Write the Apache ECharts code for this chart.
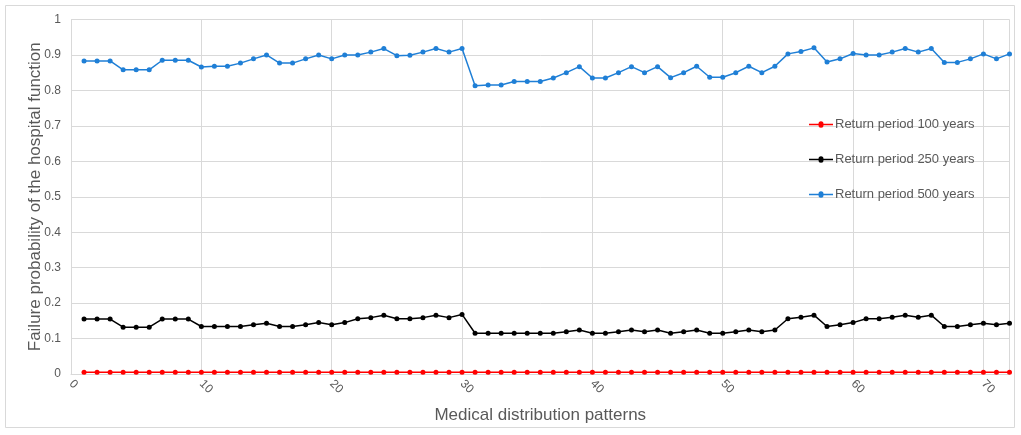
<!DOCTYPE html>
<html>
<head>
<meta charset="utf-8">
<script src="https://cdn.jsdelivr.net/npm/echarts@6/dist/echarts.min.js"></script>
<style>
html,body{margin:0;padding:0;background:#fff;}
#chart{width:1021px;height:435px;}
</style>
</head>
<body>
<div id="chart"></div>
<script>
const patterns = Array.from({length: 72}, (_, i) => i + 1);

const rp100 = [
  0.005,0.005,0.005,0.005,0.005,0.005,0.005,0.005,0.005,0.005,
  0.005,0.005,0.005,0.005,0.005,0.005,0.005,0.005,0.005,0.005,
  0.005,0.005,0.005,0.005,0.005,0.005,0.005,0.005,0.005,0.005,
  0.005,0.005,0.005,0.005,0.005,0.005,0.005,0.005,0.005,0.005,
  0.005,0.005,0.005,0.005,0.005,0.005,0.005,0.005,0.005,0.005,
  0.005,0.005,0.005,0.005,0.005,0.005,0.005,0.005,0.005,0.005,
  0.005,0.005,0.005,0.005,0.005,0.005,0.005,0.005,0.005,0.005,
  0.005,0.005
];

const rp250 = [
  0.155,0.155,0.155,0.132,0.132,0.132,0.155,0.155,0.155,0.134,
  0.134,0.134,0.134,0.139,0.143,0.134,0.134,0.139,0.145,0.139,
  0.145,0.156,0.159,0.166,0.156,0.156,0.159,0.166,0.159,0.168,
  0.115,0.115,0.115,0.115,0.115,0.115,0.115,0.119,0.124,0.115,
  0.115,0.119,0.124,0.119,0.124,0.115,0.119,0.124,0.115,0.115,
  0.119,0.124,0.119,0.124,0.156,0.160,0.166,0.134,0.139,0.145,
  0.156,0.156,0.160,0.166,0.160,0.166,0.134,0.134,0.139,0.143,
  0.139,0.143
];

const rp500 = [
  0.883,0.883,0.883,0.858,0.858,0.858,0.885,0.885,0.885,0.866,
  0.868,0.868,0.877,0.889,0.900,0.877,0.877,0.889,0.900,0.889,
  0.900,0.900,0.908,0.918,0.898,0.899,0.908,0.918,0.908,0.918,
  0.813,0.815,0.815,0.825,0.825,0.825,0.835,0.850,0.867,0.835,
  0.835,0.850,0.867,0.850,0.867,0.836,0.850,0.868,0.837,0.837,
  0.850,0.868,0.850,0.868,0.903,0.910,0.920,0.880,0.889,0.904,
  0.900,0.900,0.908,0.918,0.908,0.918,0.879,0.879,0.889,0.903,
  0.889,0.903
];

const seriesNames = ['Return period 100 years','Return period 250 years','Return period 500 years'];
const seriesColors = ['#ff0000','#000000','#1f7fd6'];
const seriesData = [rp100, rp250, rp500];

const chart = echarts.init(document.getElementById('chart'));
const textColor = '#595959';
const gridColor = '#d9d9d9';

chart.setOption({
  animation: false,
  backgroundColor: '#ffffff',
  textStyle: {fontFamily: 'Liberation Sans, Arial, sans-serif'},
  graphic: [{
    type: 'rect',
    shape: {x: 5.5, y: 5.5, width: 1009, height: 422},
    style: {fill: 'none', stroke: '#d9d9d9', lineWidth: 1},
    silent: true,
    z: -1
  }],
  grid: {left: 71, right: 11.5, top: 19.5, bottom: 61, containLabel: false},
  legend: {
    orient: 'vertical',
    left: 804,
    top: 113,
    itemGap: 22,
    itemWidth: 24,
    itemHeight: 14,
    textStyle: {color: textColor, fontSize: 13, padding: [0,0,0,-3]},
    data: seriesNames.map((n, i) => ({name: n, icon: 'path://M0,6.3 L9.5,6.3 A2.5,2.5 0 1 1 14.5,6.3 L24,6.3 L24,7.7 L14.5,7.7 A2.5,2.5 0 1 1 9.5,7.7 L0,7.7 Z', itemStyle: {color: seriesColors[i]}}))
  },
  xAxis: {
    type: 'value',
    min: 0,
    max: 72,
    interval: 10,
    name: 'Medical distribution patterns',
    nameLocation: 'middle',
    nameGap: 33,
    nameMoveOverlap: false,
    nameTextStyle: {color: textColor, fontSize: 17},
    axisLine: {show: true, lineStyle: {color: gridColor}},
    axisTick: {show: false},
    axisLabel: {color: textColor, fontSize: 12, rotate: -45, margin: 8, showMaxLabel: false},
    splitLine: {show: true, lineStyle: {color: gridColor, width: 1}}
  },
  yAxis: {
    type: 'value',
    min: 0,
    max: 1,
    interval: 0.1,
    name: 'Failure probability of the hospital function',
    nameLocation: 'middle',
    nameGap: 27,
    nameMoveOverlap: false,
    nameTextStyle: {color: textColor, fontSize: 17},
    axisLine: {show: true, lineStyle: {color: gridColor}},
    axisTick: {show: false},
    axisLabel: {color: textColor, fontSize: 12, margin: 10, formatter: v => String(Math.round(v * 10) / 10)},
    splitLine: {show: true, lineStyle: {color: gridColor, width: 1}}
  },
  series: seriesNames.map((n, i) => ({
    name: n,
    type: 'line',
    data: patterns.map((p, j) => [p, seriesData[i][j]]),
    symbol: 'circle',
    symbolSize: 5,
    showSymbol: true,
    lineStyle: {color: seriesColors[i], width: 1.5},
    itemStyle: {color: seriesColors[i]},
    z: 3 + i
  }))
});
</script>
</body>
</html>
